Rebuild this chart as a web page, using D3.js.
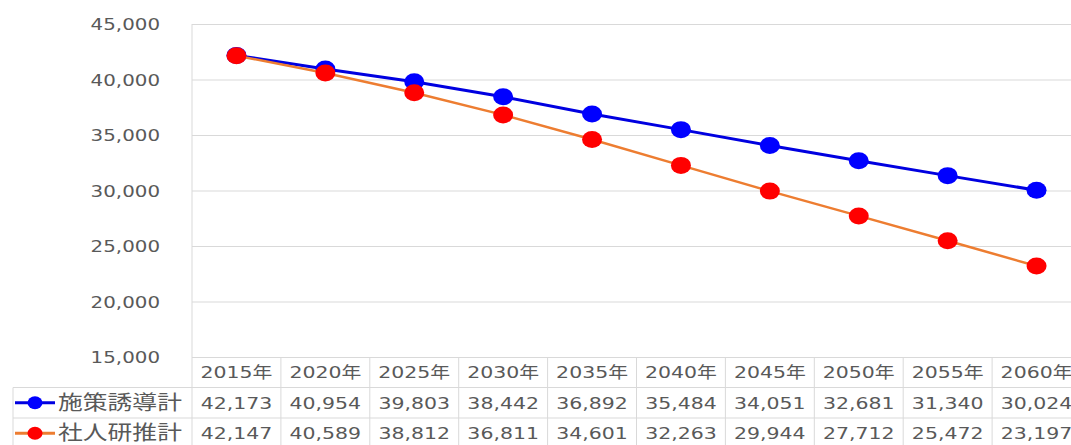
<!DOCTYPE html>
<html>
<head>
<meta charset="utf-8">
<script src="https://cdn.jsdelivr.net/npm/d3@7"></script>
<style>
  body { margin: 0; background: #fff; }
  text { font-family: "DejaVu Sans", Verdana, sans-serif; fill: #595959; }
  .cjk { font-family: "Noto Sans CJK JP", sans-serif; }
</style>
</head>
<body>
<div class="chart"></div>
<script>
// data
var years = ["2015年", "2020年", "2025年", "2030年", "2035年", "2040年", "2045年", "2050年", "2055年", "2060年"];
var seriesNames = ["施策誘導計", "社人研推計"];
var policyValues = [42173, 40954, 39803, 38442, 36892, 35484, 34051, 32681, 31340, 30024];
var ipssValues = [42147, 40589, 38812, 36811, 34601, 32263, 29944, 27712, 25472, 23197];
var yTicks = [15000, 20000, 25000, 30000, 35000, 40000, 45000];

var svgWidth = 1071, svgHeight = 445;
var plotLeft = 192, colW = 88.9;
var plotTop = 24, plotBottom = 357;
var rowH = 30.5;
var sx = 1.24; // text is a bit stretched sideways in the original

var fmt = d3.format(",");

var svg = d3.select(".chart").append("svg")
  .attr("width", svgWidth)
  .attr("height", svgHeight);

var x = d3.scaleBand().domain(years).range([plotLeft, plotLeft + colW * years.length]);
var y = d3.scaleLinear().domain([15000, 45000]).range([plotBottom, plotTop]);

// gridlines + y labels
var yAxis = d3.axisLeft(y).tickValues(yTicks).tickFormat(fmt)
  .tickSize(-(colW * years.length)).tickPadding(0);
var gy = svg.append("g").attr("transform", "translate(" + plotLeft + ",0)").call(yAxis);
gy.select(".domain").remove();
gy.selectAll("line").attr("stroke", "#d9d9d9").attr("stroke-width", 1);
gy.selectAll("text")
  .attr("x", -32 / sx)
  .attr("dy", "0.35em")
  .attr("transform", "scale(" + sx + ",1)")
  .attr("font-size", 16)
  .attr("fill", "#595959")
  .style("font-family", "'DejaVu Sans', Verdana, sans-serif");

// table lines
var tableTop = plotBottom;
var tableRight = plotLeft + colW * years.length;
var lines = svg.append("g").attr("stroke", "#d9d9d9").attr("stroke-width", 1);
lines.append("line").attr("x1", plotLeft).attr("x2", plotLeft).attr("y1", plotTop).attr("y2", svgHeight);
lines.append("line").attr("x1", 13).attr("x2", 13).attr("y1", tableTop + rowH).attr("y2", svgHeight);
years.forEach(function(d, i) {
  if (i > 0) {
    lines.append("line").attr("x1", x(d)).attr("x2", x(d)).attr("y1", tableTop).attr("y2", svgHeight);
  }
});
[1, 2].forEach(function(r) {
  lines.append("line").attr("x1", 13).attr("x2", tableRight)
    .attr("y1", tableTop + rowH * r).attr("y2", tableTop + rowH * r);
});

// table text
function cellText(cx, cy, str, size) {
  svg.append("g").attr("transform", "translate(" + cx + "," + cy + ") scale(" + sx + ",1)")
    .append("text")
    .attr("text-anchor", "middle")
    .attr("dy", "0.36em")
    .attr("font-size", size)
    .attr("fill", "#595959")
    .text(str);
}
years.forEach(function(d, i) {
  var cx = x(d) + x.bandwidth() / 2;
  svg.append("g").attr("transform", "translate(" + cx + "," + (tableTop + rowH / 2) + ") scale(" + sx + ",1)")
    .append("text").attr("text-anchor", "middle").attr("dy", "0.36em").attr("font-size", 16.5)
    .text(d.replace("年", ""))
    .append("tspan").attr("class", "cjk").attr("font-size", 16).text("年");
  cellText(cx, tableTop + rowH * 1.5, fmt(policyValues[i]), 16.5);
  cellText(cx, tableTop + rowH * 2.5, fmt(ipssValues[i]), 16.5);
});

// legend keys in the table
var keyColors = [{ line: "#0000e0", dot: "#0000ff" }, { line: "#ed7d31", dot: "#ff0000" }];
seriesNames.forEach(function(name, i) {
  var cy = tableTop + rowH * (1.5 + i);
  svg.append("line").attr("x1", 15).attr("x2", 55).attr("y1", cy).attr("y2", cy)
    .attr("stroke", keyColors[i].line).attr("stroke-width", 3);
  svg.append("ellipse").attr("cx", 35).attr("cy", cy).attr("rx", 7.5).attr("ry", 6.5)
    .attr("fill", keyColors[i].dot);
  svg.append("g").attr("transform", "translate(58," + cy + ") scale(" + sx + ",1)")
    .append("text").attr("class", "cjk").attr("dy", "0.36em").attr("font-size", 20)
    .attr("fill", "#595959").text(name);
});

// series
var line = d3.line()
  .x(function(d, i) { return x(years[i]) + x.bandwidth() / 2; })
  .y(function(d) { return y(d); });

function drawSeries(values, lineColor, lineWidth, dotColor) {
  svg.append("path").datum(values)
    .attr("fill", "none")
    .attr("stroke", lineColor)
    .attr("stroke-width", lineWidth)
    .attr("d", line);
  svg.append("g").selectAll("ellipse").data(values).enter().append("ellipse")
    .attr("cx", function(d, i) { return x(years[i]) + x.bandwidth() / 2; })
    .attr("cy", function(d) { return y(d); })
    .attr("rx", 10)
    .attr("ry", 8.5)
    .attr("fill", dotColor);
}
drawSeries(policyValues, "#0000e0", 3, "#0000ff");
drawSeries(ipssValues, "#ed7d31", 2.5, "#ff0000");
</script>
</body>
</html>
